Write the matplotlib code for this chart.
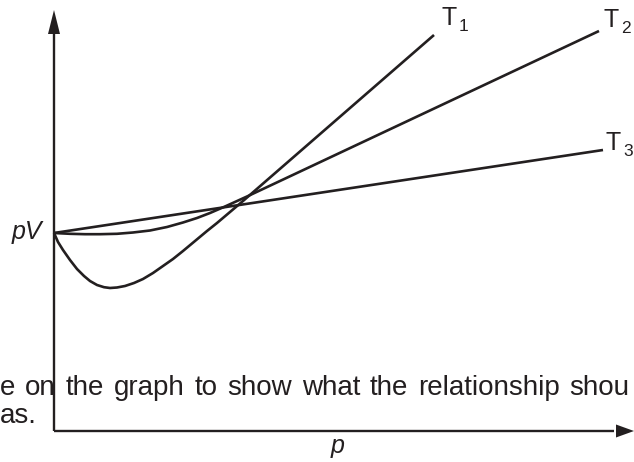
import numpy as np
import matplotlib.pyplot as plt

# Sketch of pV against p for a real gas at three temperatures.
# Values are in pixel-like units measured from the axes origin.
FONT = 'Liberation Sans'
INK = '#231f20'

t1_p = [0, 4, 9, 16, 23, 30, 36, 43, 50, 56, 63, 71, 80, 89, 99, 109, 119, 129, 141, 153,
        163, 176, 189, 380]
t1_pv = [198, 189, 181, 171, 162, 155, 150, 146, 143.8, 143, 143.5, 145, 148, 152, 158, 165,
         172, 180, 190, 200, 208, 219, 230, 396]

t2_p = [0, 16, 31, 46, 63, 79, 96, 113, 129, 143, 156, 171, 193, 545]
t2_pv = [198, 197.2, 196.8, 196.8, 197.2, 198.5, 200.5, 204, 208.5, 213, 218, 224.5, 234.5, 400]

t3_p = [0, 549]
t3_pv = [198, 281]

curve_labels = ['1', '2', '3']
label_offsets = [(8, 10), (5, 4), (3, 0)]  # pixels from the end of each curve

# clipped question text (justified in the source, so spaces are a bit wide)
note_line1 = 'e on the graph to show what the relationship shou'
note_line2 = 'as.'
NOTE_SIZE = 20
WORD_GAP = 9.8  # pixels between words

# axes frame of the sketch
X_LEFT, X_RIGHT = -54, 580
Y_BOTTOM, Y_TOP = -31, 431
ARROW_LEN, ARROW_HALF = 20, 6


def draw_words(fig, ax, x, y, line):
    """Write a line word by word so the gaps can be widened."""
    renderer = fig.canvas.get_renderer()
    for word in line.split():
        t = ax.text(x, y, word, ha='left', va='baseline', fontsize=NOTE_SIZE,
                    family=FONT, color=INK, zorder=0)
        bb = t.get_window_extent(renderer=renderer)
        x += bb.width + WORD_GAP


def main():
    fig = plt.figure(figsize=(6.34, 4.62), dpi=100)
    ax = fig.add_axes([0, 0, 1, 1])
    ax.set_xlim(X_LEFT, X_RIGHT)
    ax.set_ylim(Y_BOTTOM, Y_TOP)
    ax.axis('off')

    # axes with arrow heads
    y_tip = Y_TOP - 10
    x_tip = X_RIGHT
    ax.plot([0, 0], [0, y_tip - ARROW_LEN], color=INK, lw=1.7, solid_capstyle='butt')
    ax.plot([0, x_tip - ARROW_LEN], [0, 0], color=INK, lw=1.7, solid_capstyle='butt')
    ax.fill([-ARROW_HALF, ARROW_HALF, 0], [y_tip - 24, y_tip - 24, y_tip], color=INK, lw=0)
    ax.fill([x_tip - 18, x_tip - 18, x_tip], [-ARROW_HALF - 0.5, ARROW_HALF + 0.5, 0], color=INK, lw=0)

    curves = [(t1_p, t1_pv), (t2_p, t2_pv), (t3_p, t3_pv)]
    for (p, pv), sub, (dx, dy) in zip(curves, curve_labels, label_offsets):
        ax.plot(p, pv, color=INK, lw=1.9, solid_joinstyle='round', solid_capstyle='butt')
        end = (p[-1], pv[-1])
        ax.annotate('T', end, xytext=(dx, dy), textcoords='offset pixels',
                    ha='left', va='baseline', fontsize=18, family=FONT, color=INK)
        ax.annotate(sub, end, xytext=(dx + 17, dy - 6), textcoords='offset pixels',
                    ha='left', va='baseline', fontsize=12.5, family=FONT, color=INK)

    ax.text(-12, 192, 'pV', ha='right', va='baseline', fontsize=18, family=FONT,
            style='italic', color=INK)
    ax.text(284, -22, 'p', ha='center', va='baseline', fontsize=18, family=FONT,
            style='italic', color=INK)

    draw_words(fig, ax, X_LEFT, 36, note_line1)
    draw_words(fig, ax, X_LEFT, 8, note_line2)

    fig.savefig('out.png', dpi=100)


if __name__ == "__main__":
    main()
